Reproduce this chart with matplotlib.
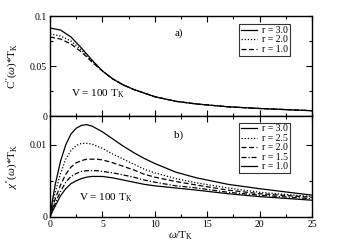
import numpy as np
import matplotlib
matplotlib.use("Agg")
import matplotlib.pyplot as plt
from matplotlib.ticker import MultipleLocator

plt.rcParams["font.family"] = ["Liberation Serif", "DejaVu Serif"]
plt.rcParams["mathtext.fontset"] = "custom"
plt.rcParams["mathtext.rm"] = "Liberation Serif"
plt.rcParams["mathtext.it"] = "Liberation Serif:italic"
plt.rcParams["mathtext.bf"] = "Liberation Serif:bold"

# panel a) : C''(w)*T_K
w_top = [0, 1, 2, 3, 4, 5, 6, 7, 8, 10, 12, 14, 17, 20, 25]
c_r30 = [0.088, 0.086, 0.079, 0.068, 0.056, 0.045, 0.037, 0.031, 0.0265,
         0.0193, 0.0147, 0.0120, 0.0092, 0.0075, 0.0053]
c_r20 = [0.082, 0.080, 0.075, 0.066, 0.055, 0.045, 0.037, 0.031, 0.0265,
         0.0193, 0.0147, 0.0120, 0.0092, 0.0075, 0.0053]
c_r10 = [0.079, 0.077, 0.072, 0.064, 0.054, 0.045, 0.037, 0.031, 0.0265,
         0.0193, 0.0147, 0.0120, 0.0092, 0.0075, 0.0053]

# panel b) : chi''(w)*T_K
w_bot = [0, 0.25, 0.5, 1, 1.5, 2, 2.5, 3, 3.5, 4, 4.5, 5, 6, 7, 8, 9, 10,
         12, 14, 17, 20, 25]
x_r30 = [0, 0.0024, 0.0045, 0.0077, 0.0100, 0.0115, 0.0123, 0.0127, 0.0128,
         0.0126, 0.0122, 0.0118, 0.0108, 0.0098, 0.0089, 0.0081, 0.0074,
         0.0062, 0.0054, 0.0045, 0.0039, 0.0030]
x_r25 = [0, 0.0018, 0.0034, 0.0060, 0.0080, 0.0092, 0.0099, 0.0102, 0.0102,
         0.0101, 0.0098, 0.0095, 0.0087, 0.0080, 0.0073, 0.0066, 0.0061,
         0.0053, 0.0047, 0.0040, 0.0034, 0.0028]
x_r20 = [0, 0.0013, 0.0025, 0.0044, 0.0059, 0.0069, 0.0075, 0.0078, 0.0080,
         0.0080, 0.0080, 0.0079, 0.0075, 0.0070, 0.0065, 0.0059, 0.0055,
         0.0049, 0.0044, 0.0037, 0.0032, 0.0027]
x_r15 = [0, 0.0010, 0.0019, 0.0035, 0.0048, 0.0056, 0.0060, 0.0063, 0.0064,
         0.0064, 0.0064, 0.0063, 0.0061, 0.0058, 0.0055, 0.0051, 0.0048,
         0.0043, 0.0040, 0.0034, 0.0030, 0.0025]
x_r10 = [0, 0.0008, 0.0015, 0.0029, 0.0039, 0.0046, 0.0050, 0.0053, 0.0055,
         0.0056, 0.0056, 0.0056, 0.0054, 0.0051, 0.0048, 0.0045, 0.0043,
         0.0040, 0.0037, 0.0032, 0.0028, 0.0023]

fig = plt.figure(figsize=(3.38, 2.5), dpi=100)
ax1 = fig.add_axes([0.148, 0.536, 0.775, 0.400])
ax2 = fig.add_axes([0.148, 0.133, 0.775, 0.403])

lw = 0.9
ax1.plot(w_top, c_r30, color="black", lw=lw, ls="-", label="r = 3.0")
ax1.plot(w_top, c_r20, color="black", lw=lw, ls=(0, (1, 1.5)), label="r = 2.0")
ax1.plot(w_top, c_r10, color="black", lw=lw, ls=(0, (4, 2)), label="r = 1.0")

ax2.plot(w_bot, x_r30, color="black", lw=lw, ls="-", label="r = 3.0")
ax2.plot(w_bot, x_r25, color="black", lw=lw, ls=(0, (1, 1.5)), label="r = 2.5")
ax2.plot(w_bot, x_r20, color="black", lw=lw, ls=(0, (4, 2)), label="r = 2.0")
ax2.plot(w_bot, x_r15, color="black", lw=lw, ls=(0, (4, 1.5, 1, 1.5)), label="r = 1.5")
ax2.plot(w_bot, x_r10, color="black", lw=lw, ls="-", label="r = 1.0")

for ax in (ax1, ax2):
    ax.set_xlim(0, 25)
    ax.xaxis.set_major_locator(MultipleLocator(5))
    ax.xaxis.set_minor_locator(MultipleLocator(2.5))
    ax.tick_params(which="both", direction="in", top=True, right=True,
                   labelsize=7, width=0.8, pad=2)
    ax.tick_params(which="major", length=4)
    ax.tick_params(which="minor", length=2.5)
    for s in ax.spines.values():
        s.set_linewidth(1.0)

# top panel axes
ax1.set_ylim(0, 0.1)
ax1.set_yticks([0, 0.05, 0.1])
ax1.set_yticklabels(["0", "0.05", "0.1"])
ax1.yaxis.set_minor_locator(MultipleLocator(0.025))
ax1.tick_params(labelbottom=False)

# bottom panel axes
ax2.set_ylim(0, 0.014)
ax2.set_yticks([0, 0.01])
ax2.set_yticklabels(["0", "0.01"])
ax2.yaxis.set_minor_locator(MultipleLocator(0.005))
ax2.set_xticks([0, 5, 10, 15, 20, 25])
ax2.set_xticklabels(["0", "5", "10", "15", "20", "25"])

ax1.set_ylabel(r"C$''$($\omega$)*T$_\mathrm{K}$", fontsize=8)
ax2.set_ylabel(r"$\chi''$($\omega$)*T$_\mathrm{K}$", fontsize=8)
ax2.set_xlabel(r"$\omega$/T$_\mathrm{K}$", fontsize=8, labelpad=1)
ax1.yaxis.set_label_coords(-0.11, 0.5)
ax2.yaxis.set_label_coords(-0.11, 0.5)

ax1.text(0.08, 0.20, r"V = 100 T$_\mathrm{K}$", transform=ax1.transAxes, fontsize=8)
ax2.text(0.11, 0.16, r"V = 100 T$_\mathrm{K}$", transform=ax2.transAxes, fontsize=8)
ax1.text(0.475, 0.80, "a)", transform=ax1.transAxes, fontsize=8)
ax2.text(0.475, 0.78, "b)", transform=ax2.transAxes, fontsize=8)

for ax, top in ((ax1, 0.92), (ax2, 0.935)):
    leg = ax.legend(loc="upper right", bbox_to_anchor=(0.915, top), fontsize=7,
                    frameon=True, fancybox=False, edgecolor="black",
                    handlelength=1.6, handletextpad=0.5, borderpad=0.2,
                    labelspacing=0.05, borderaxespad=0)
    leg.get_frame().set_linewidth(0.8)

fig.savefig("out.png", dpi=100)
